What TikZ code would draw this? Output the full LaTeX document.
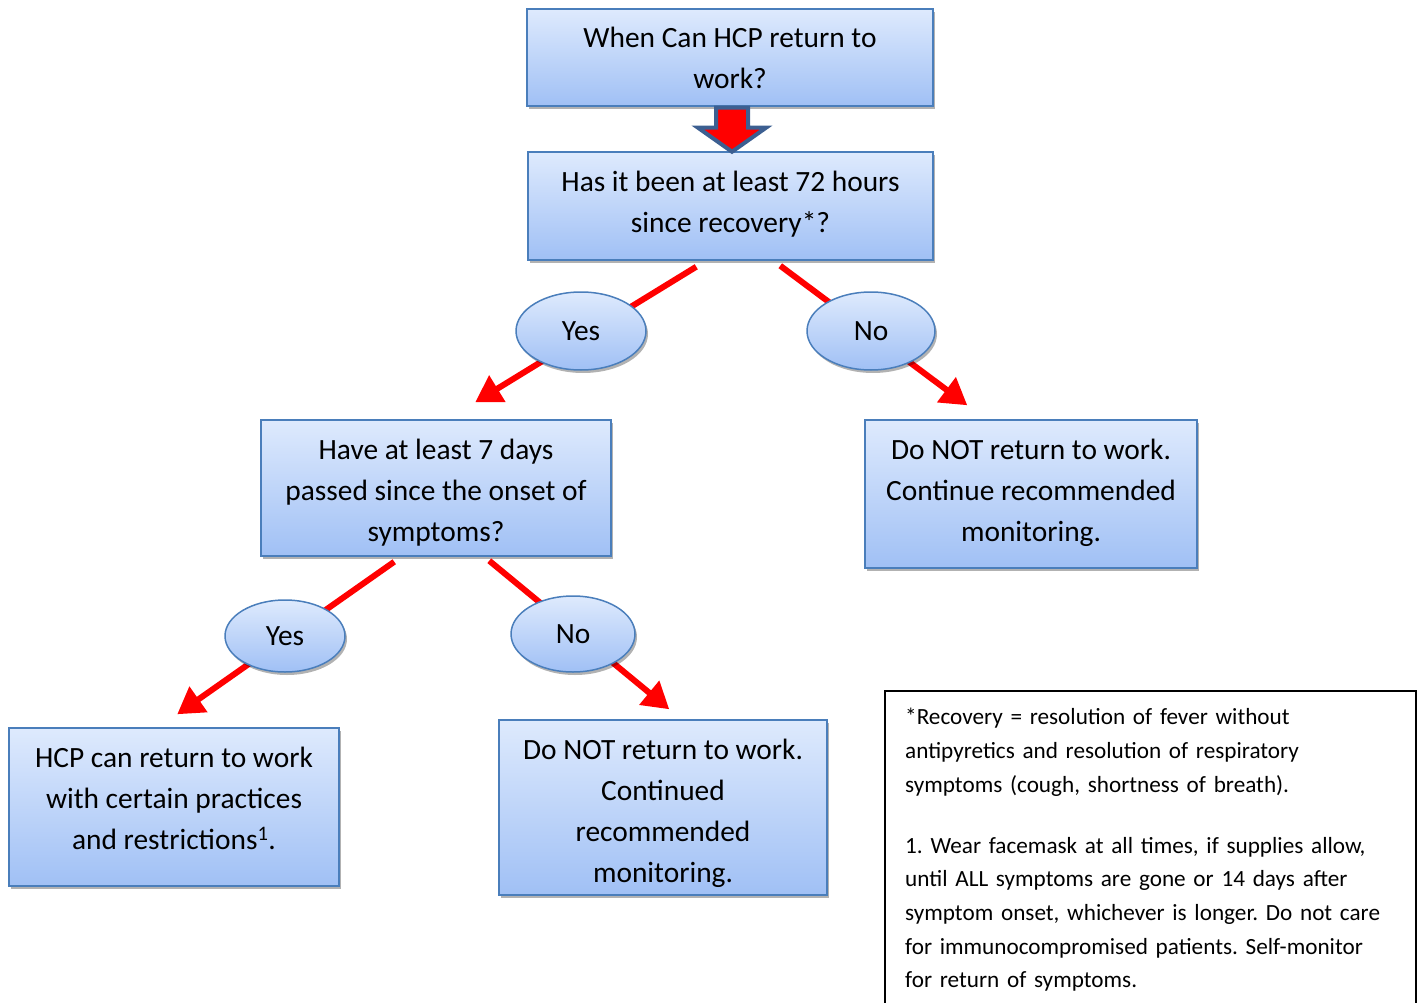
\documentclass[tikz,border=0pt]{standalone}
\usepackage{fontspec}
\setmainfont{Carlito}
\usetikzlibrary{arrows.meta,shapes.geometric,shadows,calc}
\definecolor{boxtop}{RGB}{222,234,253}
\definecolor{boxbot}{RGB}{160,192,245}
\definecolor{boxline}{RGB}{74,126,187}
\definecolor{arrowblue}{RGB}{60,95,145}
\newcommand\fbtop{\rule{0pt}{37pt}}
\newcommand\fbbot[1]{\rule[-#1pt]{0pt}{#1pt}}
\tikzset{
  flowbox/.style={draw=boxline, line width=1.5pt, top color=boxtop, bottom color=boxbot,
    inner sep=0pt, align=center, font=\fontsize{29.4}{41}\selectfont,
    drop shadow={shadow xshift=2pt, shadow yshift=-3pt, opacity=0.3, fill=black}},
  choice/.style={ellipse, draw=boxline, line width=1.5pt, top color=boxtop, bottom color=boxbot,
    inner sep=0pt, font=\fontsize{29.4}{34}\selectfont,
    drop shadow={shadow xshift=2pt, shadow yshift=-3pt, opacity=0.3, fill=black}},
  redarrow/.style={draw=red, line width=6pt, -{Triangle[length=26pt,width=30pt]}},
  bigarrow/.style={fill=red, draw=arrowblue, line width=4pt, line join=miter},
  notebox/.style={draw=black, line width=1.5pt},
  notetext/.style={inner sep=0pt, align=left, text width=510pt,
    font=\fontsize{23.2}{33.7}\selectfont\frenchspacing}
}
\begin{document}
\begin{tikzpicture}[x=1pt,y=-1pt]
\useasboundingbox (0,0) rectangle (1421,1003);

% boxes
\node[flowbox, minimum width=406pt, minimum height=97pt] (q1) at (730,57.5)
  {\fbtop When Can HCP return to\\work?\fbbot{16.6}};
\node[flowbox, minimum width=405pt, minimum height=108pt] (q2) at (730.5,206)
  {\fbtop Has it been at least 72 hours\\since recovery*?\fbbot{25.6}};
\node[flowbox, minimum width=350pt, minimum height=136pt] (q3) at (436,488)
  {\fbtop Have at least 7 days\\passed since the onset of\\symptoms?\fbbot{12.6}};
\node[flowbox, minimum width=332pt, minimum height=148pt] (r1) at (1031,494)
  {\fbtop Do NOT return to work.\\Continue recommended\\monitoring.\fbbot{24.6}};
\node[flowbox, minimum width=330pt, minimum height=158pt] (r2) at (174,807)
  {\fbtop HCP can return to work\\with certain practices\\and restrictions\textsuperscript{1}.\fbbot{34.6}};
\node[flowbox, minimum width=328pt, minimum height=175pt] (r3) at (663,807.5)
  {\fbtop Do NOT return to work.\\Continued\\recommended\\monitoring.\fbbot{10.6}};

% big arrow between q1 and q2
\draw[bigarrow] ($(q1.south)+(-14,1)$) -- ++(32,0) -- ++(0,20) -- ++(18,0)
  -- ($(q1.south)+(2,45)$) -- ($(q1.south)+(-32,21)$) -- ++(18,0) -- cycle;

% red connectors (behind the ellipses)
\draw[redarrow] ($(q2.south west)+(169,6)$) -- ($(q3.north west)+(215,-17)$);
\draw[redarrow] ($(q2.south west)+(253,5)$) -- ($(r1.north west)+(103,-14)$);
\draw[redarrow] ($(q3.south west)+(134,5)$) -- ($(r2.north west)+(169,-13)$);
\draw[redarrow] ($(q3.south west)+(229,4)$) -- ($(r3.north west)+(171,-10)$);

% choice ellipses
\node[choice, minimum width=130pt, minimum height=78pt] (y1) at (581,331) {Yes};
\node[choice, minimum width=128pt, minimum height=78pt] (n1) at (871,331) {No};
\node[choice, minimum width=120pt, minimum height=72pt] (y2) at (285,636) {\raisebox{-3pt}{Yes}};
\node[choice, minimum width=124pt, minimum height=76pt] (n2) at (573,634) {No};

% note
\node[notebox, anchor=north west, minimum width=531pt, minimum height=340pt] (nb) at (884,690) {};
\node[notetext, anchor=north west] (nt) at ($(nb.north west)+(21,18)$)
  {*Recovery = resolution of fever without\\
   antipyretics and resolution of respiratory\\
   symptoms (cough, shortness of breath).\\[27.3pt]
   1. Wear facemask at all times, if supplies allow,\\
   until ALL symptoms are gone or 14 days after\\
   symptom onset, whichever is longer. Do not care\\
   for immunocompromised patients. Self-monitor\\
   for return of symptoms.};
\end{tikzpicture}
\end{document}
